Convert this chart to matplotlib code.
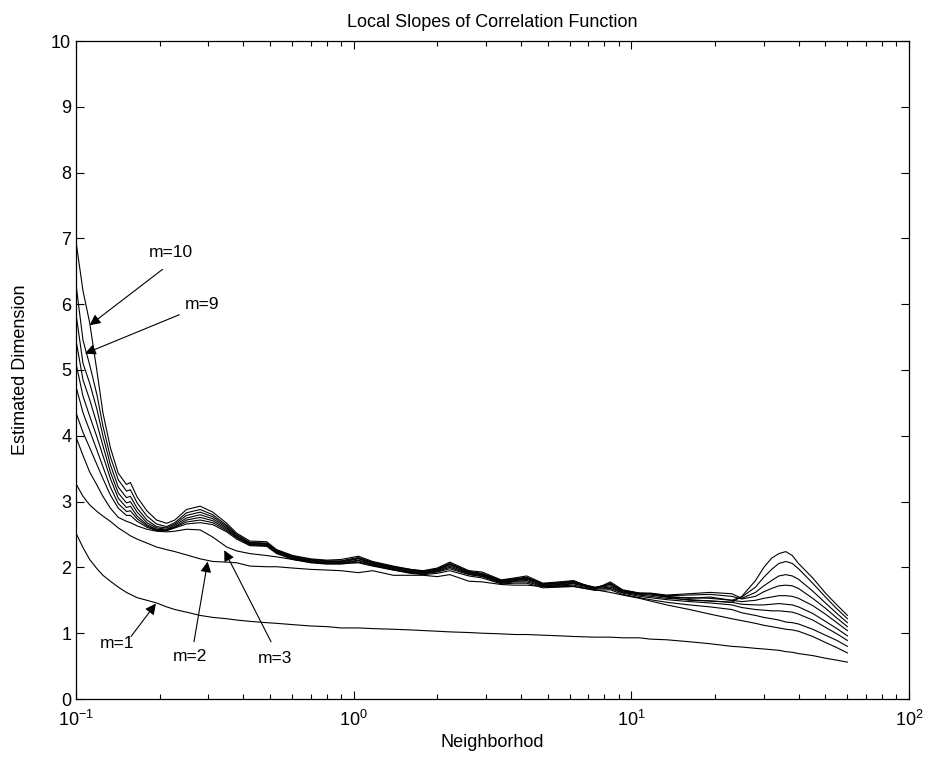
import numpy as np
import matplotlib
matplotlib.use("Agg")
import matplotlib.pyplot as plt

plt.rcParams['font.family'] = ['Liberation Sans', 'DejaVu Sans']
plt.rcParams['axes.unicode_minus'] = False

# Neighborhood values (shared by all curves)
r = [0.100, 0.106, 0.112, 0.119, 0.125, 0.133, 0.142, 0.152, 0.157, 0.166,
     0.180, 0.195, 0.212, 0.227, 0.250, 0.280, 0.311, 0.349, 0.379, 0.423,
     0.486, 0.528, 0.604, 0.70, 0.80, 0.90, 1.04, 1.17, 1.39, 1.60,
     1.78, 2.0, 2.22, 2.6, 2.9, 3.4, 3.8, 4.2, 4.8, 5.5,
     6.2, 7.4, 8.4, 9.3, 10.7, 11.7, 13.4, 16.2, 19.2, 23,
     25, 28, 30, 32, 34, 36, 38, 40, 45, 50,
     55, 60]

# local slopes for embedding dimension m = 1 .. 10
m1 = [2.52, 2.30, 2.12, 1.98, 1.88, 1.79, 1.70, 1.62, 1.59, 1.54,
      1.50, 1.46, 1.40, 1.36, 1.32, 1.27, 1.24, 1.22, 1.20, 1.18,
      1.16, 1.15, 1.13, 1.11, 1.10, 1.08, 1.08, 1.07, 1.06, 1.05,
      1.04, 1.03, 1.02, 1.01, 1.00, 0.99, 0.98, 0.98, 0.97, 0.96,
      0.95, 0.94, 0.94, 0.93, 0.93, 0.91, 0.90, 0.87, 0.84, 0.80,
      0.79, 0.77, 0.76, 0.75, 0.74, 0.72, 0.71, 0.69, 0.66, 0.62,
      0.59, 0.56]
m2 = [3.27, 3.08, 2.95, 2.85, 2.78, 2.70, 2.60, 2.52, 2.48, 2.43,
      2.37, 2.31, 2.27, 2.24, 2.19, 2.13, 2.09, 2.08, 2.07, 2.02,
      2.01, 2.01, 1.99, 1.97, 1.96, 1.95, 1.92, 1.95, 1.88, 1.88,
      1.88, 1.86, 1.89, 1.79, 1.78, 1.74, 1.73, 1.73, 1.71, 1.71,
      1.71, 1.66, 1.62, 1.58, 1.53, 1.49, 1.43, 1.36, 1.29, 1.22,
      1.19, 1.15, 1.12, 1.10, 1.08, 1.06, 1.05, 1.03, 0.95, 0.86,
      0.78, 0.70]
m3 = [3.98, 3.70, 3.45, 3.25, 3.08, 2.90, 2.76, 2.70, 2.68, 2.63,
      2.58, 2.55, 2.54, 2.55, 2.58, 2.57, 2.46, 2.31, 2.25, 2.21,
      2.18, 2.16, 2.12, 2.08, 2.06, 2.06, 2.07, 2.02, 1.96, 1.91,
      1.89, 1.91, 1.95, 1.87, 1.84, 1.75, 1.76, 1.76, 1.69, 1.70,
      1.71, 1.65, 1.66, 1.59, 1.54, 1.51, 1.47, 1.43, 1.40, 1.36,
      1.31, 1.27, 1.24, 1.22, 1.20, 1.17, 1.16, 1.14, 1.06, 0.97,
      0.89, 0.80]
m4 = [4.35, 4.05, 3.82, 3.56, 3.35, 3.10, 2.90, 2.79, 2.79, 2.70,
      2.61, 2.56, 2.56, 2.60, 2.66, 2.68, 2.65, 2.54, 2.43, 2.33,
      2.32, 2.21, 2.12, 2.07, 2.05, 2.05, 2.08, 2.03, 1.96, 1.92,
      1.90, 1.93, 1.98, 1.89, 1.86, 1.76, 1.78, 1.78, 1.71, 1.72,
      1.73, 1.67, 1.68, 1.61, 1.56, 1.54, 1.51, 1.48, 1.46, 1.43,
      1.39, 1.36, 1.35, 1.34, 1.34, 1.33, 1.32, 1.29, 1.20, 1.09,
      0.99, 0.89]
m5 = [4.75, 4.35, 4.08, 3.78, 3.53, 3.22, 2.97, 2.85, 2.86, 2.74,
      2.63, 2.57, 2.56, 2.61, 2.69, 2.72, 2.68, 2.56, 2.45, 2.34,
      2.33, 2.22, 2.13, 2.08, 2.06, 2.06, 2.10, 2.04, 1.97, 1.93,
      1.91, 1.94, 2.00, 1.90, 1.87, 1.77, 1.79, 1.80, 1.72, 1.73,
      1.75, 1.68, 1.70, 1.62, 1.58, 1.56, 1.53, 1.51, 1.49, 1.47,
      1.44, 1.43, 1.43, 1.44, 1.45, 1.44, 1.43, 1.40, 1.30, 1.18,
      1.07, 0.96]
m6 = [5.10, 4.60, 4.30, 3.98, 3.70, 3.35, 3.05, 2.91, 2.93, 2.78,
      2.65, 2.58, 2.57, 2.62, 2.72, 2.76, 2.71, 2.58, 2.46, 2.35,
      2.34, 2.23, 2.14, 2.09, 2.07, 2.07, 2.11, 2.05, 1.98, 1.94,
      1.92, 1.95, 2.02, 1.91, 1.88, 1.78, 1.80, 1.82, 1.73, 1.74,
      1.76, 1.69, 1.72, 1.63, 1.59, 1.58, 1.55, 1.54, 1.53, 1.50,
      1.48, 1.50, 1.53, 1.55, 1.57, 1.57, 1.56, 1.53, 1.42, 1.29,
      1.16, 1.04]
m7 = [5.45, 4.85, 4.55, 4.18, 3.85, 3.45, 3.13, 2.98, 3.00, 2.84,
      2.68, 2.60, 2.58, 2.64, 2.75, 2.80, 2.74, 2.60, 2.47, 2.36,
      2.35, 2.24, 2.15, 2.10, 2.08, 2.08, 2.13, 2.06, 1.99, 1.95,
      1.93, 1.96, 2.04, 1.92, 1.89, 1.79, 1.81, 1.83, 1.74, 1.75,
      1.77, 1.70, 1.74, 1.64, 1.60, 1.60, 1.57, 1.58, 1.59, 1.56,
      1.52, 1.56, 1.63, 1.68, 1.72, 1.73, 1.72, 1.68, 1.53, 1.38,
      1.23, 1.10]
m8 = [5.85, 5.10, 4.80, 4.40, 4.00, 3.56, 3.22, 3.06, 3.08, 2.90,
      2.72, 2.62, 2.60, 2.66, 2.79, 2.84, 2.77, 2.62, 2.49, 2.37,
      2.36, 2.25, 2.16, 2.11, 2.09, 2.09, 2.14, 2.07, 2.00, 1.96,
      1.94, 1.97, 2.05, 1.93, 1.90, 1.80, 1.82, 1.84, 1.75, 1.76,
      1.78, 1.69, 1.75, 1.65, 1.61, 1.61, 1.58, 1.60, 1.62, 1.60,
      1.53, 1.62, 1.72, 1.80, 1.87, 1.89, 1.87, 1.82, 1.64, 1.46,
      1.30, 1.16]
m9 = [6.30, 5.45, 5.08, 4.62, 4.15, 3.68, 3.33, 3.16, 3.18, 2.98,
      2.78, 2.66, 2.62, 2.68, 2.83, 2.88, 2.80, 2.64, 2.50, 2.38,
      2.37, 2.26, 2.17, 2.12, 2.10, 2.10, 2.15, 2.08, 2.01, 1.97,
      1.94, 1.98, 2.06, 1.94, 1.91, 1.80, 1.83, 1.85, 1.75, 1.77,
      1.79, 1.68, 1.76, 1.65, 1.60, 1.60, 1.56, 1.53, 1.55, 1.50,
      1.55, 1.70, 1.85, 1.97, 2.06, 2.09, 2.06, 1.98, 1.76, 1.55,
      1.37, 1.22]
m10 = [6.95, 6.20, 5.72, 4.98, 4.35, 3.82, 3.43, 3.26, 3.29, 3.07,
       2.86, 2.72, 2.67, 2.72, 2.88, 2.93, 2.84, 2.67, 2.52, 2.40,
       2.39, 2.27, 2.18, 2.13, 2.11, 2.12, 2.17, 2.09, 2.02, 1.97,
       1.95, 1.99, 2.08, 1.95, 1.93, 1.81, 1.84, 1.87, 1.76, 1.78,
       1.80, 1.67, 1.78, 1.66, 1.61, 1.60, 1.55, 1.50, 1.49, 1.47,
       1.56, 1.80, 2.00, 2.14, 2.21, 2.24, 2.18, 2.06, 1.84, 1.61,
       1.43, 1.27]

curves = [m1, m2, m3, m4, m5, m6, m7, m8, m9, m10]

# labels: (text, text position, arrow tip)
notes = [("m=10", (0.220, 6.79), (0.112, 5.68)),
         ("m=9", (0.284, 5.99), (0.1077, 5.25)),
         ("m=1", (0.1406, 0.84), (0.194, 1.45)),
         ("m=2", (0.2573, 0.65), (0.298, 2.09)),
         ("m=3", (0.5206, 0.61), (0.342, 2.26))]
# arrow tails (where the line leaves the label)
tails = [(0.205, 6.53), (0.2355, 5.84), (0.1578, 0.95), (0.266, 0.87), (0.504, 0.87)]

fig = plt.figure(figsize=(9.26, 7.58), dpi=100)
ax = fig.add_axes([76 / 926, 59 / 758, 833 / 926, 658 / 758])

for y in curves:
    ax.plot(r, y, color='k', lw=0.8)

for (txt, pos, tip), tail in zip(notes, tails):
    ax.text(pos[0], pos[1], txt, ha='center', va='center', fontsize=12.5)
    ax.annotate('', xy=tip, xytext=tail,
                arrowprops=dict(arrowstyle='-|>', color='k', lw=0.8,
                                mutation_scale=16, shrinkA=0, shrinkB=0))

ax.set_xscale('log')
ax.set_xlim(0.1, 100)
ax.set_ylim(0, 10)
ax.set_yticks(np.arange(0, 11, 1))
ax.tick_params(which='both', direction='in', top=True, right=True, labelsize=13)
ax.tick_params(which='major', length=6, width=0.8)
ax.tick_params(which='minor', length=3.5, width=0.8)
ax.tick_params(axis='x', which='major', pad=8)
for s in ax.spines.values():
    s.set_linewidth(0.9)

ax.set_title("Local Slopes of Correlation Function", fontsize=13, pad=10)
ax.set_xlabel("Neighborhod", fontsize=13, labelpad=3)
ax.set_ylabel("Estimated Dimension", fontsize=13, labelpad=16)

fig.savefig("out.png", dpi=100)
